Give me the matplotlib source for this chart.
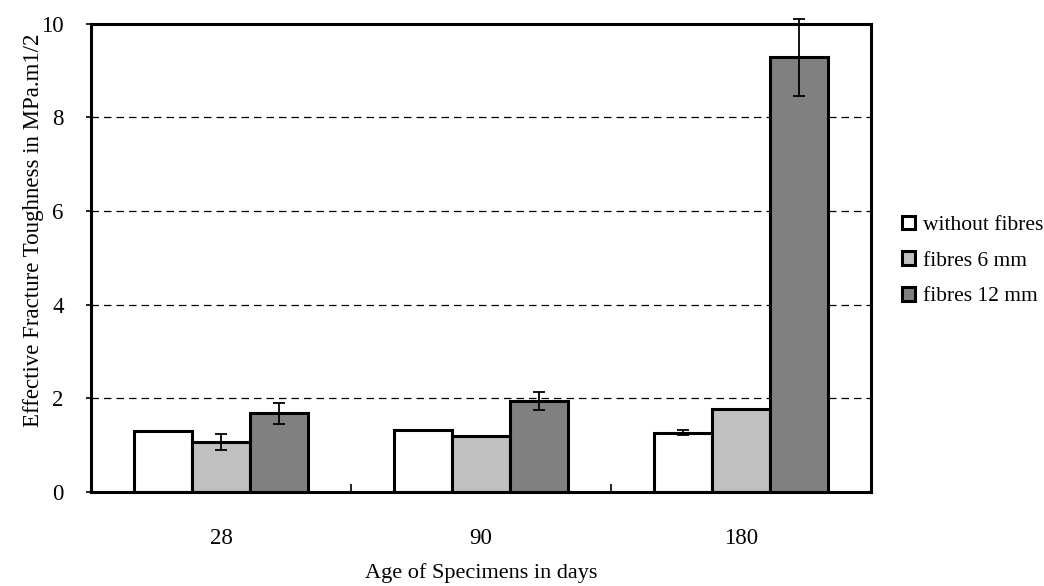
import matplotlib
matplotlib.use("Agg")
import matplotlib.pyplot as plt
import numpy as np

categories = ["28", "90", "180"]
series_names = ["without fibres", "fibres 6 mm", "fibres 12 mm"]
without_fibres = [1.30, 1.32, 1.27]
fibres_6mm = [1.07, 1.19, 1.77]
fibres_12mm = [1.68, 1.95, 9.28]
err_without = [0.01, 0.0, 0.06]
err_6mm = [0.17, 0.0, 0.0]
err_12mm = [0.22, 0.19, 0.82]
colors = ["#FFFFFF", "#C0C0C0", "#808080"]
yticks = [0, 2, 4, 6, 8, 10]

plt.rcParams['font.family'] = ['Liberation Serif', 'DejaVu Serif']
FS = 16.5

fig = plt.figure(figsize=(10.44, 5.86), dpi=100)
ax = fig.add_axes([91/1044, 1-492/586, (871-91)/1044, (492-23.5)/586])

x = np.arange(len(categories))
bw = 0.223
data = [without_fibres, fibres_6mm, fibres_12mm]
errs = [err_without, err_6mm, err_12mm]
for i, (vals, e, c, name) in enumerate(zip(data, errs, colors, series_names)):
    pos = x + (i - 1) * bw
    ax.bar(pos, vals, width=bw, color=c, edgecolor="black", linewidth=2.2,
           label=name, zorder=3)
    ax.errorbar(pos, vals, yerr=e, fmt="none", ecolor="black", elinewidth=1.3,
                capsize=4.5, capthick=1.3, zorder=4, clip_on=False)

ax.set_xlim(-0.5, len(categories) - 0.5)
ax.set_ylim(0, 10)
ax.set_yticks(yticks)
ax.set_xticks(x)
ax.set_xticklabels(categories)
ax.set_xticks(np.arange(len(categories) + 1) - 0.5, minor=True)
ax.tick_params(axis="x", which="major", length=0, pad=26, labelsize=FS)
ax.tick_params(axis="x", which="minor", direction="in", length=6, width=1.2)
ax.tick_params(axis="y", which="major", direction="out", length=3.6, width=1.2,
               pad=16, labelsize=FS)

for yv in yticks[1:-1]:
    ax.axhline(yv, color="black", linestyle=(0, (6, 4)), linewidth=0.9, zorder=1)

for s in ax.spines.values():
    s.set_linewidth(2.2)
    s.set_zorder(5)

ax.set_ylabel("Effective Fracture Toughness in MPa.m1/2", fontsize=FS)
ax.yaxis.set_label_coords(44/1044, 1-230/586, transform=fig.transFigure)
ax.set_xlabel("Age of Specimens in days", fontsize=16)
ax.xaxis.set_label_coords(481/1044, 1-573/586, transform=fig.transFigure)
ax.xaxis.label.set_verticalalignment("center")

leg = ax.legend(loc="center left", bbox_to_anchor=(893/1044, 1-261/586),
                bbox_transform=fig.transFigure, frameon=False, fontsize=15.5,
                handlelength=0.6, handleheight=0.6, handletextpad=0.4,
                labelspacing=0.75, borderaxespad=0)
for h in leg.legend_handles:
    h.set_linewidth(2.2)

fig.savefig("out.png", dpi=100)
